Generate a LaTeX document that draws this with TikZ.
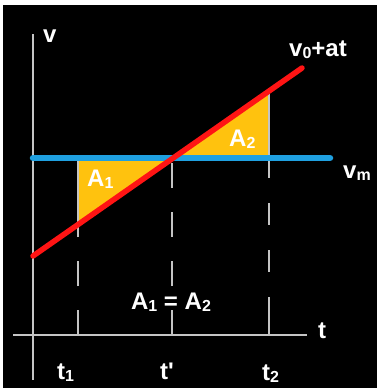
\documentclass[tikz,border=0pt]{standalone}
\usepackage{fontspec}
\setmainfont{Liberation Sans}
\newcommand{\lowidx}[1]{\raisebox{-2.5pt}{\fontsize{16}{16}\selectfont #1}}
\definecolor{areafill}{HTML}{FFC20E}
\definecolor{vmblue}{HTML}{1FA0E0}
\definecolor{vred}{HTML}{FF1414}
\definecolor{axisgray}{HTML}{C4C4C4}
\begin{document}
\begin{tikzpicture}[x=1pt,y=-1pt,
  lbl/.style={text=white,font=\fontsize{24}{24}\selectfont\bfseries,inner sep=0pt},
  axisline/.style={draw=axisgray,line width=1.5pt},
  guide/.style={draw=axisgray,line width=1.3pt},
  guidedash/.style={guide,dash pattern=on 25pt off 24pt}]
\useasboundingbox (0,0) rectangle (381,388);
\fill[white] (0,0) rectangle (381,388);
\fill[black] (3,5) rectangle (377,388);
% key points
\coordinate (ytop) at (33,34);
\coordinate (ybot) at (33,380);
\coordinate (xl) at (13,335);
\coordinate (xr) at (307,335);
\coordinate (P1) at (78,158);
\coordinate (P1b) at (78,224.5);
\coordinate (P1a) at (78,335);
\coordinate (Pm) at (173,158);
\coordinate (Pma) at (172,335);
\coordinate (Pmb) at (172,158);
\coordinate (P2) at (269,158);
\coordinate (P2t) at (269,91);
\coordinate (P2a) at (269,335);
\coordinate (R0) at (33,256);
\coordinate (R1) at (302,68);
\coordinate (B0) at (33,158);
\coordinate (B1) at (330,158);
% areas
\fill[areafill] (P1) -- (Pm) -- (P1b) -- cycle;
\fill[areafill] (Pm) -- (P2) -- (P2t) -- cycle;
% guides
\draw[guide] (P1) -- (P1b);
\draw[guidedash] (P1a) -- (P1);
\draw[guidedash] (Pma) -- (Pmb);
\draw[guide] (P2t) -- (P2);
\draw[guide,dash pattern=on 20pt off 25pt on 22pt off 25pt on 22pt off 25pt on 38pt off 10pt] (P2) -- (P2a);
% axes
\draw[axisline] (ytop) -- (ybot);
\draw[axisline] (xl) -- (xr);
% lines
\draw[vmblue,line width=6.5pt,line cap=round] (B0) -- (B1);
\draw[vred,line width=5.5pt,line cap=round] (R0) -- (R1);
% labels
\node[lbl,anchor=base west] (lv) at (43,42) {v};
\node[lbl,anchor=base west] (lvat) at (289,56) {v\lowidx{0}+at};
\node[lbl,anchor=base west] (lvm) at (343,178) {v\lowidx{m}};
\node[lbl,anchor=base west] (la1) at (87,186) {A\lowidx{1}};
\node[lbl,anchor=base west] (la2) at (229,146) {A\lowidx{2}};
\node[lbl,anchor=base] (leq) at (171,309) {A\lowidx{1} = A\lowidx{2}};
\node[lbl,anchor=base west] (lt) at (318,338) {t};
\node[lbl,anchor=base west] (lt1) at (57,379) {t\lowidx{1}};
\node[lbl,anchor=base west] (ltp) at (160,379) {t\textquotesingle};
\node[lbl,anchor=base west] (lt2) at (262,380) {t\lowidx{2}};
\end{tikzpicture}
\end{document}
